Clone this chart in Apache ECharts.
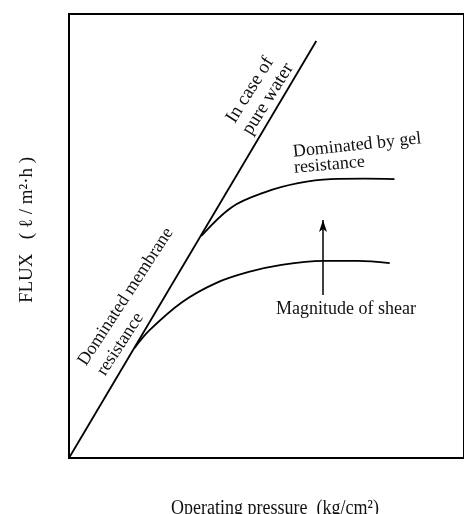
<!DOCTYPE html>
<html>
<head>
<meta charset="utf-8">
<script src="https://cdn.jsdelivr.net/npm/echarts@6/dist/echarts.min.js"></script>
<style>
html,body{margin:0;padding:0;background:#fff;}
#chart{width:464px;height:514px;}
</style>
</head>
<body>
<div id="chart"></div>
<script>
// ---- data (schematic units, 0..10 on both axes) ----
const pureWater = [[0, 0], [6.26, 9.39]];
const gelCurve = [[3.35, 5.0], [4.12, 5.65], [4.97, 5.99], [5.80, 6.19], [6.63, 6.28], [7.49, 6.29], [8.24, 6.28]];
const membraneCurve = [[1.66, 2.48], [2.04, 2.88], [2.86, 3.51], [3.72, 3.94], [4.55, 4.19], [5.38, 4.35], [6.43, 4.44], [7.31, 4.44], [8.12, 4.39]];
const shearArrow = [[6.43, 3.67], [6.43, 5.36]];

const xTitle = 'Operating pressure  (kg/cm²)';
const yTitle = 'FLUX   ( ℓ / m²·h )';
const pureLabel = ['In case of', 'pure water'];
const membraneLabel = ['Dominated membrane', 'resistance'];
const gelLabel = ['Dominated by gel', 'resistance'];
const shearLabel = 'Magnitude of shear';

const serif = '"Liberation Serif", "DejaVu Serif", serif';
const chart = echarts.init(document.getElementById('chart'), null, {renderer: 'canvas'});
const deg = Math.PI / 180;
function txt(s, x, y, rot, size, align, sy) {
  return {
    type: 'text', x: x, y: y, rotation: rot * deg, scaleY: sy || 1,
    style: {text: s, font: size + 'px ' + serif, fill: '#111', textAlign: align || 'left', textVerticalAlign: 'middle'}
  };
}
const lineStyle = {color: '#000', width: 1.8};
chart.setOption({
  animation: false,
  backgroundColor: '#fff',
  grid: {left: 69, top: 14, right: -4, bottom: 56, show: true, borderColor: '#000', borderWidth: 2},
  xAxis: {type: 'value', min: 0, max: 10, axisLine: {show: false}, axisTick: {show: false}, axisLabel: {show: false}, splitLine: {show: false}},
  yAxis: {type: 'value', min: 0, max: 10, axisLine: {show: false}, axisTick: {show: false}, axisLabel: {show: false}, splitLine: {show: false}},
  series: [
    {type: 'line', data: pureWater, showSymbol: false, lineStyle: lineStyle},
    {type: 'line', data: gelCurve, smooth: 0.35, showSymbol: false, lineStyle: lineStyle},
    {type: 'line', data: membraneCurve, smooth: 0.35, showSymbol: false, lineStyle: lineStyle},
    {type: 'line', data: [], showSymbol: false,
     markLine: {silent: true, symbol: ['none', 'arrow'], symbolSize: [6, 12], label: {show: false},
       lineStyle: {color: '#000', width: 1.5, type: 'solid'},
       data: [[{coord: shearArrow[0]}, {coord: shearArrow[1]}]]}}
  ],
  graphic: [
    txt(pureLabel[0], 250, 90, 58, 19, 'center'),
    txt(pureLabel[1], 268, 99, 58, 19, 'center'),
    txt(membraneLabel[0], 82, 364, 57, 18, 'left'),
    txt(membraneLabel[1], 101, 374, 57, 18, 'left'),
    txt(gelLabel[0], 293, 152, 6, 18, 'left'),
    txt(gelLabel[1], 294, 168, 5, 18, 'left'),
    txt(shearLabel, 346, 309, 0, 18, 'center'),
    txt(yTitle, 27, 230, 90, 19, 'center'),
    {type: 'text', x: 275, y: 498, scaleY: 1.2, style: {text: xTitle, font: '18px ' + serif, fill: '#111', textAlign: 'center', textVerticalAlign: 'top'}}
  ]
});
</script>
</body>
</html>
